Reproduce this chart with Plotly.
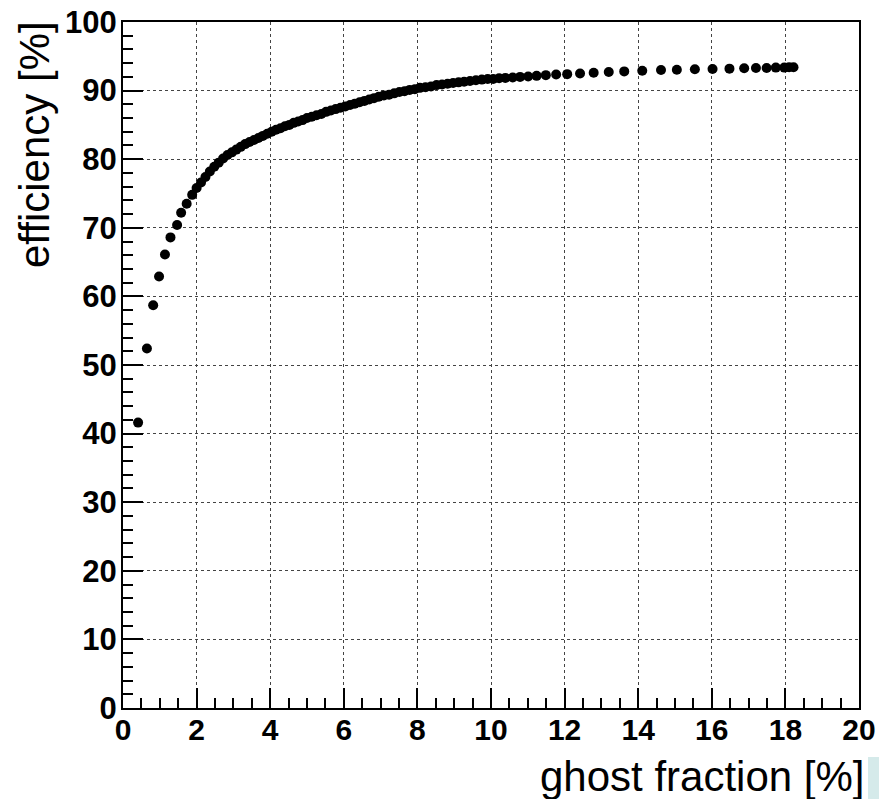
import plotly.graph_objects as go

# Efficiency vs. ghost fraction scan points
ghost_fraction = [
    0.41, 0.65, 0.82, 0.98, 1.14, 1.29, 1.47, 1.58, 1.73, 1.88,
    2.00, 2.12, 2.24, 2.36, 2.48, 2.60, 2.72, 2.84, 2.96, 3.08,
    3.20, 3.32, 3.44, 3.56, 3.68, 3.80, 3.92, 4.04, 4.16, 4.28,
    4.40, 4.52, 4.64, 4.76, 4.88, 5.00, 5.13, 5.26, 5.39, 5.52,
    5.65, 5.78, 5.91, 6.04, 6.17, 6.30, 6.43, 6.56, 6.69, 6.82,
    6.95, 7.09, 7.23, 7.37, 7.51, 7.65, 7.79, 7.93, 8.07, 8.22,
    8.37, 8.52, 8.67, 8.82, 8.97, 9.12, 9.27, 9.43, 9.59, 9.75,
    9.91, 10.06, 10.22, 10.39, 10.59, 10.79, 11.01, 11.24, 11.49, 11.77,
    12.07, 12.42, 12.79, 13.20, 13.62, 14.11, 14.62, 15.05, 15.54, 16.02,
    16.48, 16.88, 17.20, 17.49, 17.74, 17.97, 18.10, 18.22,
]
efficiency = [
    41.6, 52.4, 58.7, 62.9, 66.1, 68.6, 70.4, 72.2, 73.5, 74.8,
    75.8, 76.6, 77.4, 78.2, 78.9, 79.5, 80.1, 80.6, 81.0, 81.4,
    81.8, 82.2, 82.5, 82.8, 83.1, 83.4, 83.7, 84.0, 84.3, 84.5,
    84.8, 85.0, 85.3, 85.5, 85.7, 86.0, 86.2, 86.4, 86.6, 86.9,
    87.1, 87.3, 87.5, 87.7, 87.9, 88.1, 88.3, 88.5, 88.7, 88.9,
    89.1, 89.3, 89.4, 89.6, 89.8, 89.9, 90.1, 90.2, 90.4, 90.5,
    90.6, 90.8, 90.9, 91.0, 91.1, 91.2, 91.3, 91.4, 91.5, 91.6,
    91.7, 91.7, 91.8, 91.85, 91.9, 92.0, 92.05, 92.15, 92.25, 92.35,
    92.4, 92.5, 92.6, 92.7, 92.8, 92.9, 93.0, 93.05, 93.1, 93.15,
    93.2, 93.25, 93.3, 93.3, 93.35, 93.35, 93.4, 93.4,
]

x_ticks = [0, 2, 4, 6, 8, 10, 12, 14, 16, 18, 20]
y_ticks = [0, 10, 20, 30, 40, 50, 60, 70, 80, 90, 100]

W, H = 879, 799
L, R, T, B = 123, 20, 22, 91
pw, ph = W - L - R, H - T - B

fig = go.Figure()
fig.add_trace(go.Scatter(
    x=ghost_fraction, y=efficiency, mode="markers",
    marker=dict(color="black", size=10, line=dict(width=0)),
    showlegend=False,
))

axis_common = dict(
    showline=True, linecolor="black", linewidth=2, mirror=True,
    ticks="inside", ticklen=20, tickwidth=1.5, tickcolor="black",
    showgrid=True, gridcolor="#444444", gridwidth=1, griddash="dot",
    zeroline=False, automargin=False,
)

fig.update_xaxes(
    range=[0, 20], tickvals=x_ticks, ticktext=[str(v) for v in x_ticks],
    tickfont=dict(family="Liberation Sans", size=30, color="black", weight="bold"),
    minor=dict(dtick=0.5, ticks="inside", ticklen=10, tickwidth=1.5,
               tickcolor="black", showgrid=False),
    ticklabelstandoff=-6,
    **axis_common,
)
fig.update_yaxes(
    range=[0, 100], tickvals=y_ticks, ticktext=[str(v) for v in y_ticks],
    tickfont=dict(family="Liberation Sans", size=31, color="black", weight="bold"),
    minor=dict(dtick=2, ticks="inside", ticklen=10, tickwidth=1.5,
               tickcolor="black", showgrid=False),
    ticklabelstandoff=-2,
    **axis_common,
)

title_font = dict(family="Liberation Sans", size=42, color="black")
fig.add_annotation(
    text="efficiency [%]", xref="paper", yref="paper",
    x=(35 - L) / pw, y=(H - B - 145) / ph, textangle=-90,
    xanchor="center", yanchor="middle", showarrow=False, font=title_font,
)
fig.add_annotation(
    text="ghost fraction [%]", xref="paper", yref="paper",
    x=(867 - L) / pw, y=(H - B - 776) / ph,
    xanchor="right", yanchor="middle", showarrow=False, font=title_font,
)

# light corner patch at the bottom right edge
fig.add_shape(
    type="rect", xref="paper", yref="paper", layer="below",
    x0=(868 - L) / pw, x1=(W - L) / pw, y0=(H - B - 757) / ph, y1=(H - B - H) / ph,
    line=dict(width=0), fillcolor="#d5eaea",
)

fig.update_layout(
    width=W, height=H, autosize=False,
    margin=dict(l=L, r=R, t=T, b=B, pad=0),
    paper_bgcolor="white", plot_bgcolor="white",
)

fig.write_html("out.html")
